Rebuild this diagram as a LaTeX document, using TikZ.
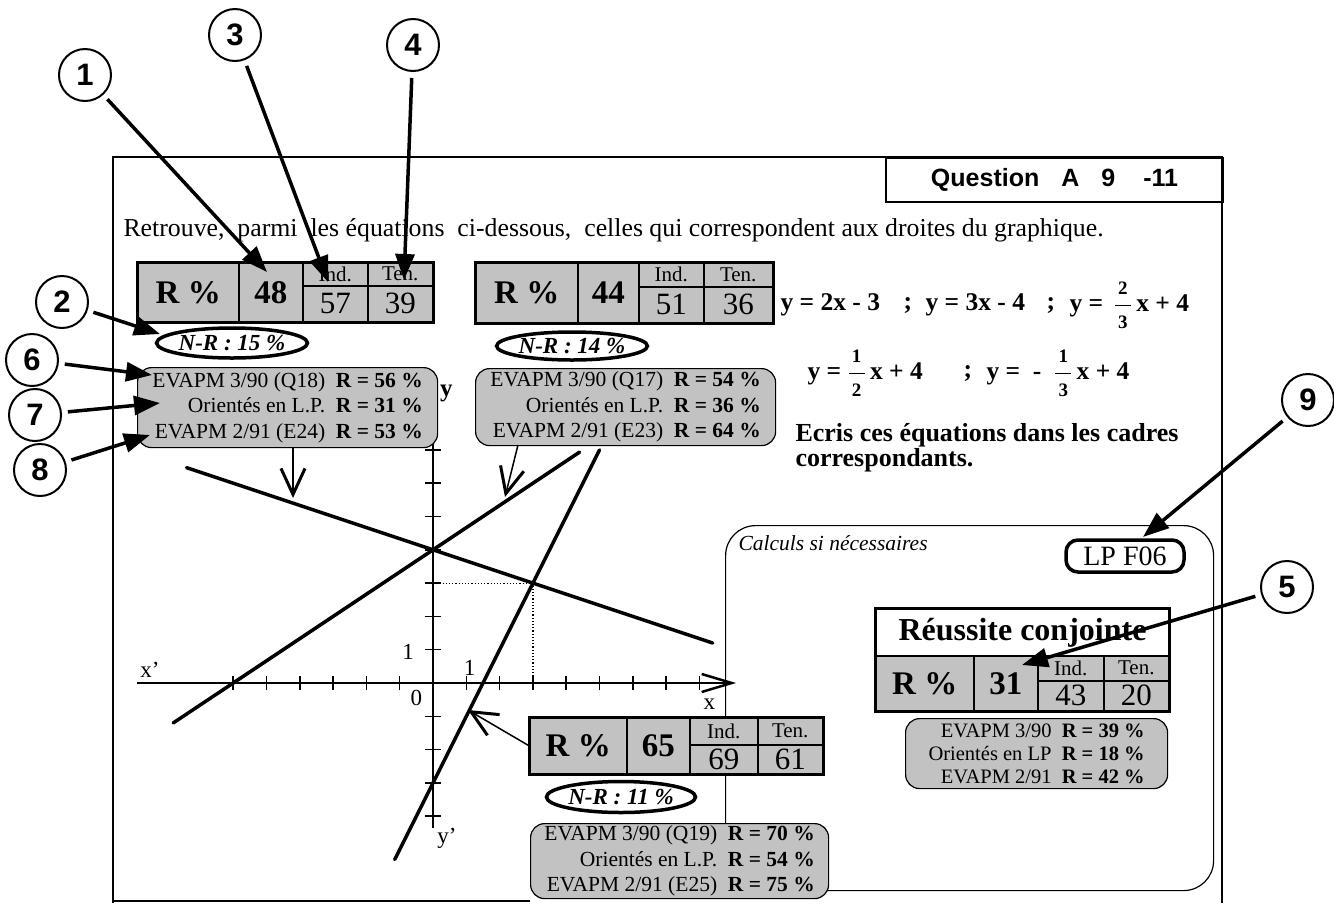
\documentclass[tikz,border=0pt]{standalone}
\usepackage{fontspec}
\setmainfont{Liberation Serif}
\setsansfont{Liberation Sans}
\usetikzlibrary{arrows.meta,shapes.geometric}

\newcommand{\frc}[2]{$\displaystyle\frac{\hbox{\fontsize{19}{19}\selectfont\bfseries\,#1\,}}{\hbox{\fontsize{19}{19}\selectfont\bfseries\,#2\,}}$}

\begin{document}
\begin{tikzpicture}[x=1pt, y=-1pt,
  numbered/.style={circle, draw, line width=2pt, minimum size=52, inner sep=0, font=\sffamily\bfseries\fontsize{31}{31}\selectfont},
  callarrow/.style={line width=3.5pt, shorten <=6pt, -{Triangle[length=26pt,width=19pt]}},
  cell/.style={draw, line width=1.5pt, fill=black!24, inner sep=0, anchor=north west},
  bigcell/.style={cell, font=\bfseries\fontsize{33}{33}\selectfont},
  headcell/.style={cell, font=\fontsize{21}{21}\selectfont},
  valcell/.style={cell, font=\fontsize{31}{31}\selectfont},
  nrtag/.style={ellipse, draw, line width=3.5pt, inner sep=0, font=\bfseries\itshape\fontsize{23}{23}\selectfont},
  infobox/.style={draw, line width=1.2pt, rounded corners=14pt, fill=black!24, inner sep=0, anchor=north west, align=right, font=\fontsize{21.5}{25.5}\selectfont},
  pointer/.style={line width=1.5pt, -{Straight Barb[length=26pt,width=24pt,line width=3pt]}},
  droite/.style={line width=3.5pt, line cap=round},
  eqfont/.style={anchor=west, font=\bfseries\fontsize{25.5}{25.5}\selectfont},
]
\useasboundingbox (0,0) rectangle (1334,903);

% cadre
\draw[line width=2.5pt] (113,903) -- (113,157) -- (1222,157) -- (1222,903);
\draw[line width=2pt] (113,901) -- (530,901);
\node[draw, line width=2pt, minimum width=337, minimum height=44, anchor=north west, font=\sffamily\bfseries\fontsize{25}{25}\selectfont] (qbox) at (885,157) {Question\hspace{22pt}A\hspace{22pt}9\hspace{28pt}-11};
\node[anchor=west, font=\fontsize{25.8}{25.8}\selectfont] (consigne) at (120,230) {Retrouve,~ parmi~ les équations~ ci-dessous,~ celles qui correspondent aux droites du graphique.};

% calculs
\node[draw, line width=1.2pt, rounded corners=30pt, minimum width=488, minimum height=365, anchor=north west] (calc) at (725,525) {};
\node[anchor=west, font=\itshape\fontsize{21.5}{21.5}\selectfont] (calctxt) at (735,543) {Calculs si nécessaires};
\node[draw, line width=3.5pt, rounded corners=12pt, minimum width=118, minimum height=32, inner sep=0, font=\fontsize{28}{28}\selectfont] (lp) at (1125,556) {LP F06};

% graphique
\coordinate (O) at (433,683);
\begin{scope}[shift={(O)}, x=33.3pt, y=33.3pt]
\draw[line width=2.5pt, -{Straight Barb[length=30pt,width=18pt,line width=2.5pt]}] (-8.9,0) -- (9.1,0);
\draw[line width=2.5pt] (0,-4.35) -- (0,8.5);
\draw[line width=1.5pt] (-6,-0.22) -- (-6,0.22) (-5,-0.22) -- (-5,0.22) (-4,-0.22) -- (-4,0.22) (-3,-0.22) -- (-3,0.22) (-2,-0.22) -- (-2,0.22) (-1,-0.22) -- (-1,0.22) (1,-0.22) -- (1,0.22) (2,-0.22) -- (2,0.22) (3,-0.22) -- (3,0.22) (4,-0.22) -- (4,0.22) (5,-0.22) -- (5,0.22) (6,-0.22) -- (6,0.22) (7,-0.22) -- (7,0.22) (8,-0.22) -- (8,0.22);
\draw[line width=1.5pt] (-0.24,-4) -- (0.24,-4) (-0.24,-3) -- (0.24,-3) (-0.24,-2) -- (0.24,-2) (-0.24,-1) -- (0.24,-1) (-0.24,1) -- (0.24,1) (-0.24,2) -- (0.24,2) (-0.24,3) -- (0.24,3) (-0.24,4) -- (0.24,4) (-0.24,5) -- (0.24,5) (-0.24,6) -- (0.24,6) (-0.24,7) -- (0.24,7);
\draw[dotted, line width=1.2pt] (0,3) -- (3,3) -- (3,0);
\draw[droite] (-7.4,6.467) -- (8.4,1.2);
\draw[droite] (-7.8,-1.2) -- (4.4,6.933);
\draw[droite] (-1.15,-5.3) -- (5,7);
\node[font=\fontsize{23}{23}\selectfont] (xp) at (-8.5,0.4) {x'};
\node[font=\fontsize{23}{23}\selectfont] (xl) at (8.3,-0.65) {x};
\node[font=\fontsize{23}{23}\selectfont] (yp) at (0.42,-4.65) {y'};
\node[font=\bfseries\fontsize{25}{25}\selectfont] (yl) at (0.4,8.7) {y};
\node[font=\fontsize{23}{23}\selectfont] (zero) at (-0.5,-0.45) {0};
\node[font=\fontsize{23}{23}\selectfont] (unx) at (1.1,0.45) {1};
\node[font=\fontsize{23}{23}\selectfont] (uny) at (-0.75,0.93) {1};
\end{scope}
\coordinate (pa) at (293,498);
\coordinate (pb0) at (518,445);
\coordinate (pb) at (505,497);
\coordinate (pc) at (468,710);

% equations
\node[eqfont] (eqa) at (777,305) {y = 2x - 3};
\node[eqfont] (sca) at (900,305) {;};
\node[eqfont] (eqb) at (922,305) {y = 3x - 4};
\node[eqfont] (scb) at (1043,305) {;};
\node[eqfont] (eqc) at (1066,305) {y = \,\frc{2}{3}\,x + 4};
\node[eqfont] (eqd) at (804,373) {y = \frc{1}{2}\,x + 4};
\node[eqfont] (scc) at (960,373) {;};
\node[eqfont] (eqe) at (983,373) {y = ~-~~\frc{1}{3}\,x + 4};
\node[anchor=west, align=left, font=\bfseries\fontsize{26}{23}\selectfont] (ecris) at (792,448) {Ecris ces équations dans les cadres\\correspondants.};

% tableau 1
\node[bigcell, minimum width=101, minimum height=59] (ra1) at (137,262) {R \%};
\node[bigcell, minimum width=64, minimum height=59] (va1) at (238,262) {48};
\node[headcell, minimum width=65, minimum height=23] (ia1) at (302,262) {Ind.};
\node[headcell, minimum width=65, minimum height=23] (ta1) at (367,262) {Ten.};
\node[valcell, minimum width=65, minimum height=36] (iv1) at (302,285) {57};
\node[valcell, minimum width=65, minimum height=36] (tv1) at (367,285) {39};
\draw[line width=3pt] (ra1.north west) rectangle (tv1.south east);
\node[nrtag, minimum width=145, minimum height=30] (nr1) at (232,343) {N-R : 15 \%};
\node[infobox, minimum width=300, minimum height=80] (info1) at (137,367) {EVAPM 3/90 (Q18)~~\textbf{R = 56 \%}\\Orientés en L.P.~~\textbf{R = 31 \%}\\EVAPM 2/91 (E24)~~\textbf{R = 53 \%}};

% tableau 2
\node[bigcell, minimum width=102, minimum height=60] (ra2) at (475,262) {R \%};
\node[bigcell, minimum width=61, minimum height=60] (va2) at (577,262) {44};
\node[headcell, minimum width=65, minimum height=24] (ia2) at (638,262) {Ind.};
\node[headcell, minimum width=69, minimum height=24] (ta2) at (703,262) {Ten.};
\node[valcell, minimum width=65, minimum height=36] (iv2) at (638,286) {51};
\node[valcell, minimum width=69, minimum height=36] (tv2) at (703,286) {36};
\draw[line width=3pt] (ra2.north west) rectangle (tv2.south east);
\node[nrtag, minimum width=141, minimum height=28] (nr2) at (572,346) {N-R : 14 \%};
\node[infobox, minimum width=300, minimum height=77] (info2) at (475,368) {EVAPM 3/90 (Q17)~~\textbf{R = 54 \%}\\Orientés en L.P.~~\textbf{R = 36 \%}\\EVAPM 2/91 (E23)~~\textbf{R = 64 \%}};

% tableau 3
\node[bigcell, minimum width=97, minimum height=56] (ra3) at (529,717) {R \%};
\node[bigcell, minimum width=63, minimum height=56] (va3) at (626,717) {65};
\node[headcell, minimum width=68, minimum height=27] (ia3) at (689,717) {Ind.};
\node[headcell, minimum width=65, minimum height=27] (ta3) at (757,717) {Ten.};
\node[valcell, minimum width=68, minimum height=29] (iv3) at (689,744) {69};
\node[valcell, minimum width=65, minimum height=29] (tv3) at (757,744) {61};
\draw[line width=3pt] (ra3.north west) rectangle (tv3.south east);
\node[nrtag, minimum width=143, minimum height=31] (nr3) at (621,797) {N-R : 11 \%};
\node[infobox, minimum width=298, minimum height=75] (info3) at (530,823) {EVAPM 3/90 (Q19)~~\textbf{R = 70 \%}\\Orientés en L.P.~~\textbf{R = 54 \%}\\EVAPM 2/91 (E25)~~\textbf{R = 75 \%}};

% reussite conjointe
\node[draw, line width=2pt, fill=white, minimum width=293, minimum height=47, anchor=north west, font=\bfseries\fontsize{32}{32}\selectfont] (rc) at (875,608) {Réussite conjointe};
\node[bigcell, minimum width=98, minimum height=55] (ra4) at (875,655) {R \%};
\node[bigcell, minimum width=64, minimum height=55] (va4) at (973,655) {31};
\node[headcell, minimum width=66, minimum height=25] (ia4) at (1037,655) {Ind.};
\node[headcell, minimum width=65, minimum height=25] (ta4) at (1103,655) {Ten.};
\node[valcell, minimum width=66, minimum height=30] (iv4) at (1037,680) {43};
\node[valcell, minimum width=65, minimum height=30] (tv4) at (1103,680) {20};
\draw[line width=3pt] (rc.north west) rectangle (tv4.south east);
\node[infobox, minimum width=262, minimum height=70, font=\fontsize{20.5}{23}\selectfont] (info4) at (905,718) {EVAPM 3/90~~\textbf{R = 39 \%}\\Orientés en LP~~\textbf{R = 18 \%}\\EVAPM 2/91~~\textbf{R = 42 \%}};

% fleches vers les droites
\draw[pointer] (info1.south -| pa) -- (pa);
\draw[pointer] (pb0) -- (pb);
\draw[pointer] (ra3.west) -- (pc);

% reperes numerotes
\node[numbered] (n1) at (85,75) {1};
\node[numbered] (n2) at (62,302) {2};
\node[numbered] (n3) at (235,35) {3};
\node[numbered] (n4) at (413,45) {4};
\node[numbered] (n5) at (1287,587) {5};
\node[numbered] (n6) at (32,360) {6};
\node[numbered] (n7) at (35,415) {7};
\node[numbered] (n8) at (40,470) {8};
\node[numbered] (n9) at (1308,400) {9};
\coordinate (t1) at (267,272);
\coordinate (t2) at (160,334);
\coordinate (t3) at (328,282);
\coordinate (t4) at (404,280);
\coordinate (t5) at (1022,665);
\coordinate (t6) at (152,375);
\coordinate (t7) at (160,403);
\coordinate (t8) at (150,435);
\coordinate (t9) at (1143,537);
\draw[callarrow] (n1) -- (t1);
\draw[callarrow] (n2) -- (t2);
\draw[callarrow] (n3) -- (t3);
\draw[callarrow] (n4) -- (t4);
\draw[callarrow] (n5) -- (t5);
\draw[callarrow] (n6) -- (t6);
\draw[callarrow] (n7) -- (t7);
\draw[callarrow] (n8) -- (t8);
\draw[callarrow] (n9) -- (t9);
\end{tikzpicture}
\end{document}
